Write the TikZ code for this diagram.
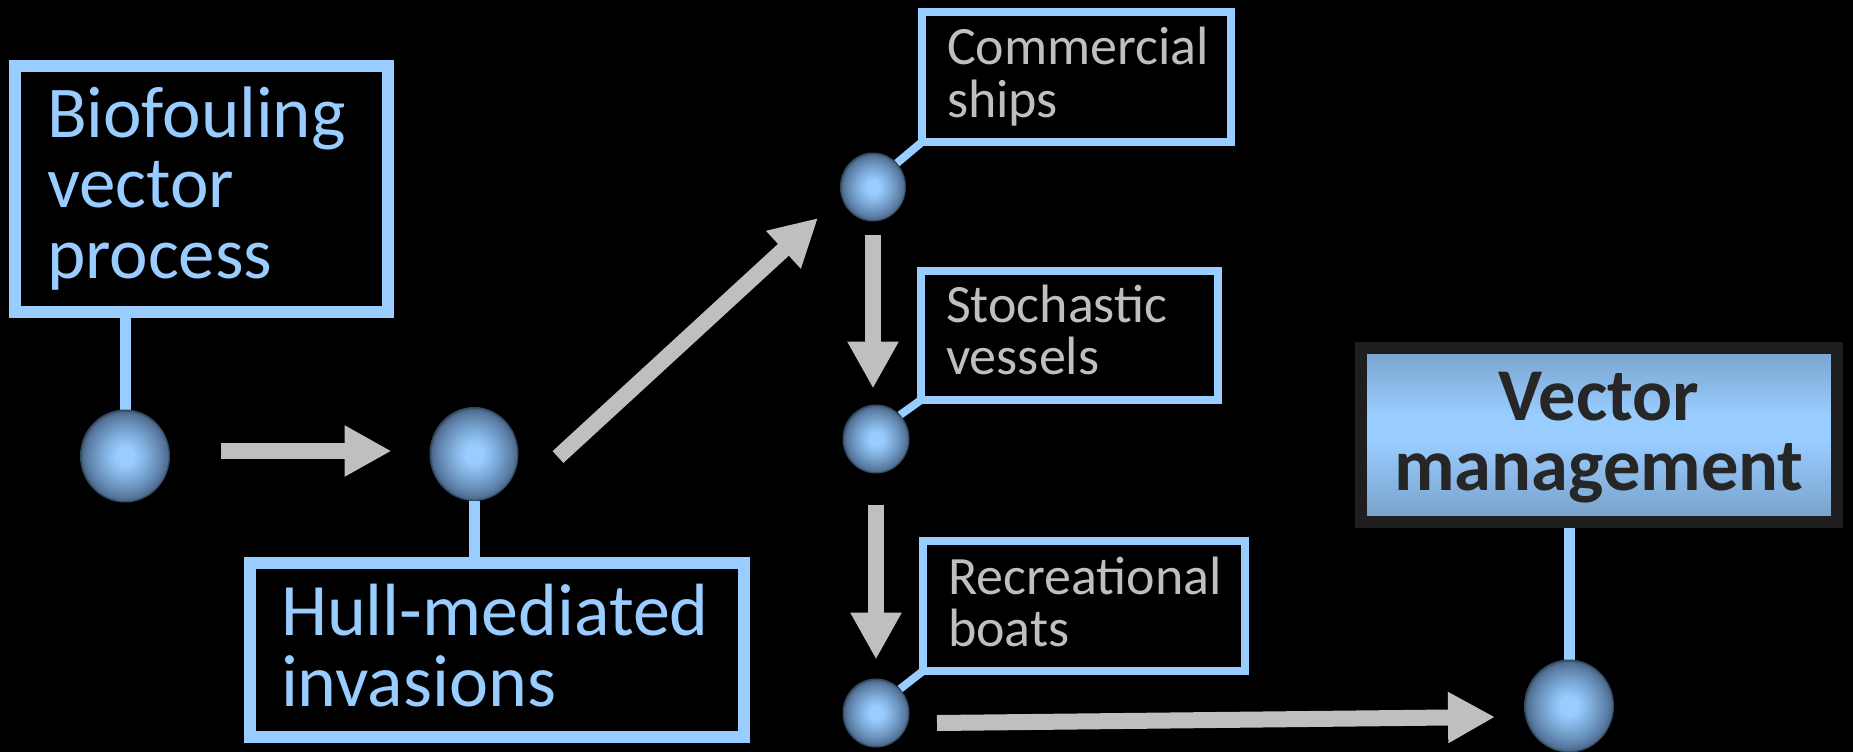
\documentclass[tikz,border=0pt]{standalone}
\usepackage{fontspec}
\setmainfont{Carlito}
\usetikzlibrary{arrows.meta,shapes.geometric}

% keep every label word whole
\hyphenpenalty=10000
\exhyphenpenalty=10000

\definecolor{skyline}{HTML}{99CCFF}
\definecolor{softgray}{HTML}{BFBFBF}
\definecolor{inkdark}{HTML}{262626}
\definecolor{framedark}{HTML}{1E1E1E}
\definecolor{orbhi}{HTML}{99CCFF}
\definecolor{orbsoft}{HTML}{84B3E2}
\definecolor{orbmid}{HTML}{6D96C0}
\definecolor{orbdeep}{HTML}{5B7DA5}
\definecolor{orbedge}{HTML}{4C6A8C}
\definecolor{orbrim}{HTML}{34495F}
\definecolor{paneldark}{HTML}{4B6580}

% glossy sphere: light core fading to a dark rim (the rim sits at 25bp)
\pgfdeclareradialshading{orb}{\pgfpoint{0bp}{0bp}}{%
  color(0bp)=(orbhi); color(5bp)=(orbhi); color(11bp)=(orbsoft);
  color(17bp)=(orbmid); color(21.5bp)=(orbdeep); color(24bp)=(orbedge);
  color(25bp)=(orbrim); color(50bp)=(orbrim)}
% panel fill: dark at top and bottom, light band in the middle
\pgfdeclareverticalshading{panel}{100bp}{%
  color(0bp)=(paneldark); color(14bp)=(paneldark!65!skyline);
  color(48bp)=(skyline); color(56bp)=(skyline);
  color(86bp)=(paneldark!65!skyline); color(100bp)=(paneldark)}

\pgfdeclarelayer{back}
\pgfsetlayers{back,main}

\begin{document}
\begin{tikzpicture}[x=1pt,y=-1pt,
  orbnode/.style={ellipse, shading=orb, draw=orbrim, line width=1pt, inner sep=0pt},
  framebox/.style={rectangle, anchor=north west, outer sep=0pt, inner ysep=0pt,
    align=left, fill=black},
  bigbox/.style={framebox, draw=skyline, line width=12pt, text=skyline},
  smallbox/.style={framebox, draw=skyline, line width=8pt, text=softgray,
    inner xsep=25pt, font=\fontsize{54}{52.5}\selectfont},
  tether/.style={draw=skyline, line width=11pt},
  thintether/.style={draw=skyline, line width=8pt},
  flow/.style={draw=softgray, line width=16pt,
    -{Triangle[length=47pt,width=48pt]}}]

\useasboundingbox (0,0) rectangle (1853,752);
\begin{pgfonlayer}{back}
  \fill[black] (0,0) rectangle (1853,752);
\end{pgfonlayer}

% labelled boxes
\node[bigbox, minimum width=373pt, minimum height=246pt, text width=309pt,
  inner xsep=32pt, text height=71pt, text depth=175pt,
  font=\fontsize{73}{70.5}\selectfont]
  (bio) at (15,66) {Biofouling\\vector\\process};
\node[bigbox, minimum width=494pt, minimum height=174pt, text width=432pt,
  inner xsep=31pt, text height=72pt, text depth=102pt,
  font=\fontsize{74}{71}\selectfont]
  (hull) at (250,563) {\mbox{Hull-mediated}\\invasions};
\node[smallbox, minimum width=309pt, minimum height=130pt, text width=259pt,
  text height=53pt, text depth=77pt]
  (com) at (922,12) {Commercial\\ships};
\node[smallbox, minimum width=297pt, minimum height=129pt, text width=247pt,
  text height=51pt, text depth=78pt]
  (sto) at (921,271) {Stochastic\\vessels};
\node[smallbox, minimum width=322pt, minimum height=130pt, text width=272pt,
  text height=53pt, text depth=77pt]
  (rec) at (923,541) {Recreational\\boats};
\node[framebox, shading=panel, draw=framedark, line width=12pt, text=inkdark,
  align=center, minimum width=476pt, minimum height=174pt, text width=476pt,
  inner xsep=0pt, text height=72pt, text depth=102pt,
  font=\fontsize{74.5}{70}\selectfont\bfseries]
  (vm) at (1361,348) {Vector\\management};

% spheres
\node[orbnode, minimum width=89pt, minimum height=92pt] (s1) at (125,456) {};
\node[orbnode, minimum width=88pt, minimum height=93pt] (s2) at (474,454) {};
\node[orbnode, minimum width=65pt, minimum height=68pt] (s3) at (873,187) {};
\node[orbnode, minimum width=66pt, minimum height=68pt] (s4) at (876,439) {};
\node[orbnode, minimum width=66pt, minimum height=68pt] (s5) at (876,713) {};
\node[orbnode, minimum width=89pt, minimum height=92pt] (s6) at (1569,706) {};

% tethers between boxes and spheres
\begin{pgfonlayer}{back}
  \draw[tether] (bio.south -| s1.north) -- (s1.north);
  \draw[tether] (s2.south) -- (s2.south |- hull.north);
  \draw[thintether] (s3.45) -- (com.south west);
  \draw[thintether] (s4.45) -- (sto.south west);
  \draw[thintether] (s5.45) -- (rec.south west);
  \draw[tether] (vm.south -| s6.north) -- (s6.north);
\end{pgfonlayer}

% flow arrows
\draw[flow, shorten <=51pt, shorten >=38pt]
  ([yshift=5pt]s1.east) -- ([yshift=3pt]s2.west);
\draw[flow] ([shift={(84,3)}]s2.center) -- ([shift={(-55,31)}]s3.center);
\draw[flow, shorten <=13pt, shorten >=16pt] (s3.south) -- (s3.south |- s4.north);
\draw[flow, shorten <=31pt, shorten >=19pt] (s4.south) -- (s4.south |- s5.north);
\draw[flow] ([shift={(61,10)}]s5.center) -- ([shift={(-74,11)}]s6.center);

\end{tikzpicture}
\end{document}
